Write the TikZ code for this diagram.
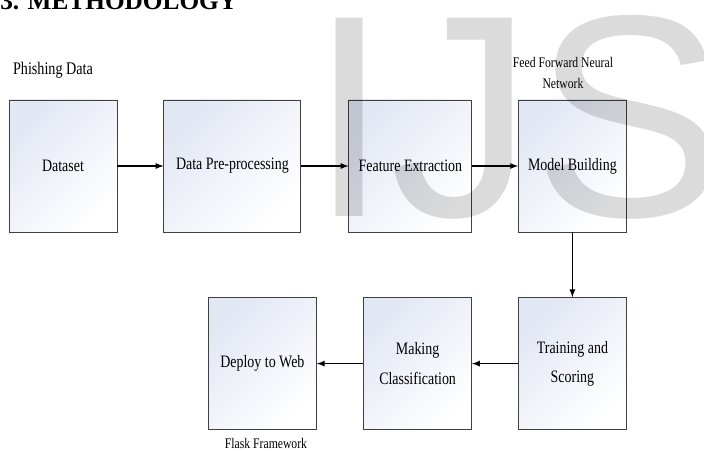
\documentclass[tikz,border=0pt]{standalone}
\usepackage{fontspec}
\setmainfont{Liberation Serif}
\newfontfamily\boxfont[FakeStretch=0.8]{Liberation Serif}
\newfontfamily\markfont{Liberation Sans}
\definecolor{boxtint}{HTML}{E2E7F4}

\begin{document}
\begin{tikzpicture}[
        stage/.style={rectangle, draw=black!75, line width=0.6pt, top color=boxtint, bottom color=white, shading angle=45, align=center, font=\boxfont\fontsize{12.4}{21}\selectfont, minimum width=2.7cm, minimum height=3.3cm},
        note/.style={align=center, inner sep=0pt, font=\boxfont\fontsize{10.4}{15.6}\selectfont},
        every edge/.style={draw, line width=0.9pt, -latex}
    ]
        \useasboundingbox (0, 0) rectangle (17.6, 11.25);

        % Heading
        \node[anchor=base west, inner sep=0pt, font=\bfseries\fontsize{18}{18}\selectfont] (heading) at (0, 11.0) {3. METHODOLOGY};

        % Stages
        \node[stage] (dataset) at (1.575, 7.1) {Dataset};
        \node[stage, minimum width=3.425cm] (preproc) at (5.81, 7.1) {Data Pre-processing};
        \node[stage, minimum width=3.075cm] (features) at (10.26, 7.1) {Feature Extraction};
        \node[stage] (model) at (14.31, 7.1) {Model Building};
        \node[stage] (training) at (14.31, 2.16) {Training and\\Scoring};
        \node[stage] (classify) at (10.44, 2.16) {Making\\Classification};
        \node[stage] (deploy) at (6.56, 2.16) {Deploy to Web};

        % Notes
        \node[note, font=\boxfont\fontsize{12.6}{15}\selectfont] (phishing) at (1.325, 9.5) {Phishing Data};
        \node[note] (ffnn) at (14.075, 9.425) {Feed Forward Neural\\Network};
        \node[note] (flask) at (6.65, 0.175) {Flask Framework};

        % Flow
        \path
            (dataset) edge (preproc)
            (preproc) edge (features)
            (features) edge (model)
            (model) edge (training)
            (training) edge (classify)
            (classify) edge (deploy);

        % Watermark
        \node[anchor=base west, inner sep=0pt, text=black, text opacity=0.14, font=\markfont\fontsize{205}{205}\selectfont] (ijs) at (7.725, 5.825) {IJS};
    \end{tikzpicture}
\end{document}
